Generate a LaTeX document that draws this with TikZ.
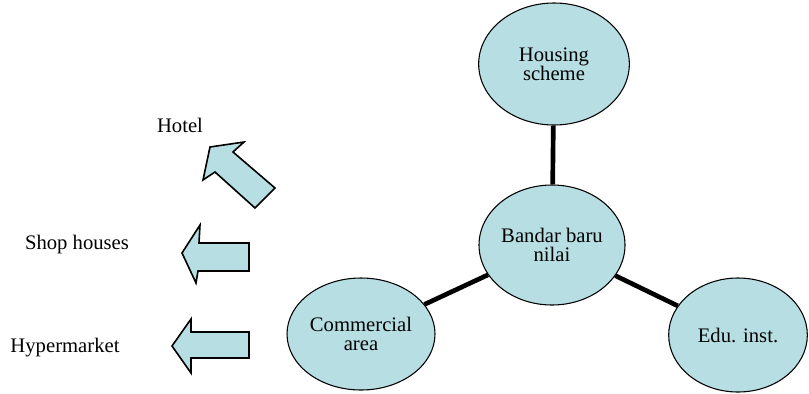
\documentclass[tikz,border=0pt]{standalone}
\usepackage{fontspec}
\setmainfont{Liberation Serif}
\usetikzlibrary{shapes.geometric}

\definecolor{placefill}{RGB}{183,223,227}

\begin{document}
\begin{tikzpicture}[
    x=0.75pt, y=-0.75pt,
    place/.style={ellipse, draw=black, line width=0.8pt, fill=placefill, inner sep=0pt, align=center},
    link/.style={line width=3.5pt, black},
    bigarrow/.style={draw=black, line width=1.2pt, fill=placefill, line join=miter},
    label/.style={align=center},
    every node/.style={font=\fontsize{15.5}{14.5}\selectfont}
]
\useasboundingbox (0,0) rectangle (809,393);

% =================== PLACES ===================
\node[place, minimum width=113pt, minimum height=91.5pt] (housing) at (554,64) {Housing\\scheme};
\node[place, minimum width=109.5pt, minimum height=90pt] (bandar) at (552,245) {Bandar baru\\nilai};
\node[place, minimum width=111pt, minimum height=84pt] (commercial) at (361,334) {Commercial\\area};
\node[place, minimum width=104pt, minimum height=85.5pt] (edu) at (738,335) {Edu. inst.};

% =================== LINKS ===================
\draw[link] (housing) -- (bandar);
\draw[link] (bandar) -- (commercial);
\draw[link] (bandar) -- (edu);

% =================== ARROWS ===================
% Hotel (diagonal)
\draw[bigarrow] (210,147) -- (244,142) -- (233,152) -- (275,188)
    -- (255,208) -- (215,172) -- (203,180) -- cycle;
% Shop houses
\draw[bigarrow] (182,253) -- (200,225) -- (199,243) -- (249,243)
    -- (249,271) -- (198,271) -- (196,283) -- cycle;
% Hypermarket
\draw[bigarrow] (172,346) -- (191,319) -- (191,332) -- (249,332)
    -- (249,358) -- (191,358) -- (191,373) -- cycle;

% =================== LABELS ===================
\node[label] (hotel) at (180,125) {Hotel};
\node[label] (shop) at (77,245) {Shop houses};
\node[label] (hyper) at (65,348) {Hypermarket};

\end{tikzpicture}
\end{document}
